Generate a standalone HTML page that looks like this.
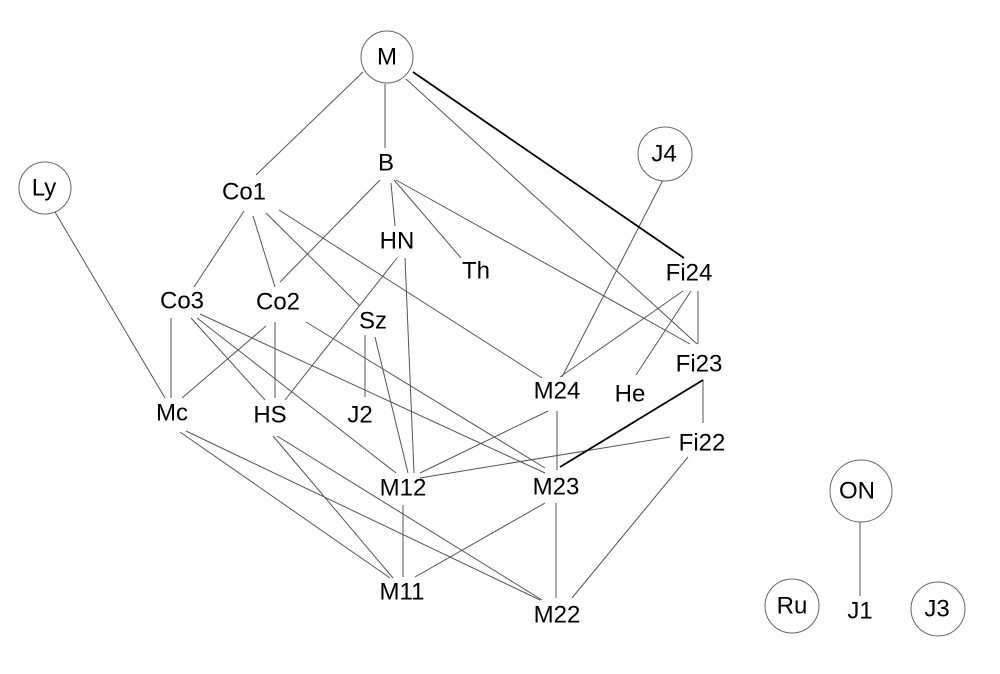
<!DOCTYPE html>
<html><head><meta charset="utf-8"><style>
html,body{margin:0;padding:0;background:#fff;}
svg{display:block;}
text{font-family:"Liberation Sans",sans-serif;font-size:24px;fill:#000;text-anchor:middle;dominant-baseline:central;}
</style></head><body>
<svg width="1000" height="674" viewBox="0 0 1000 674" xmlns="http://www.w3.org/2000/svg">
<g stroke="#555" stroke-width="1" fill="none">
<line x1="363" y1="72" x2="256" y2="175"/>
<line x1="385" y1="84" x2="385" y2="148"/>
<line x1="406" y1="79" x2="697" y2="344"/>
<line x1="380" y1="180" x2="280" y2="282"/>
<line x1="391" y1="183" x2="395" y2="226"/>
<line x1="394" y1="180" x2="461" y2="258"/>
<line x1="396" y1="180" x2="690" y2="344"/>
<line x1="244" y1="211" x2="194" y2="287"/>
<line x1="253" y1="216" x2="275" y2="287"/>
<line x1="266" y1="213" x2="360" y2="306"/>
<line x1="279" y1="210" x2="542" y2="378"/>
<line x1="397" y1="258" x2="285" y2="400"/>
<line x1="405" y1="258" x2="414" y2="473"/>
<line x1="683" y1="291" x2="560" y2="377"/>
<line x1="691" y1="291" x2="636" y2="375"/>
<line x1="698" y1="291" x2="698" y2="344"/>
<line x1="665" y1="176" x2="562" y2="377"/>
<line x1="703" y1="380" x2="703" y2="423"/>
<line x1="55" y1="212" x2="165" y2="398"/>
<line x1="171" y1="318" x2="171" y2="398"/>
<line x1="191" y1="318" x2="265" y2="400"/>
<line x1="197" y1="318" x2="396" y2="473"/>
<line x1="200" y1="314" x2="545" y2="473"/>
<line x1="266" y1="326" x2="182" y2="398"/>
<line x1="275" y1="322" x2="275" y2="398"/>
<line x1="306" y1="322" x2="545" y2="468"/>
<line x1="365" y1="335" x2="365" y2="397"/>
<line x1="375" y1="337" x2="408" y2="473"/>
<line x1="548" y1="411" x2="420" y2="473"/>
<line x1="557" y1="411" x2="557" y2="470"/>
<line x1="670" y1="437" x2="420" y2="478"/>
<line x1="688" y1="457" x2="572" y2="598"/>
<line x1="180" y1="432" x2="390" y2="578"/>
<line x1="186" y1="431" x2="540" y2="600"/>
<line x1="273" y1="436" x2="393" y2="578"/>
<line x1="277" y1="436" x2="542" y2="600"/>
<line x1="403" y1="505" x2="403" y2="577"/>
<line x1="545" y1="503" x2="415" y2="577"/>
<line x1="556" y1="503" x2="556" y2="598"/>
<line x1="860" y1="522" x2="860" y2="596"/>
</g>
<g stroke="#000" stroke-width="1.8" fill="none">
<line x1="413" y1="72" x2="684" y2="258"/>
<line x1="703" y1="380" x2="560" y2="467"/>
</g>
<g stroke="#666" stroke-width="1" fill="#fff">
<circle cx="387" cy="57" r="26"/>
<circle cx="45" cy="188" r="26"/>
<circle cx="665" cy="154" r="27"/>
<circle cx="861" cy="491" r="31"/>
<circle cx="792" cy="606" r="27"/>
<circle cx="938" cy="609" r="27"/>
</g>
<text x="387" y="57">M</text>
<text x="44" y="188">Ly</text>
<text x="664" y="154">J4</text>
<text x="857" y="491">ON</text>
<text x="792" y="606">Ru</text>
<text x="937" y="609">J3</text>
<text x="386" y="163">B</text>
<text x="244" y="192">Co1</text>
<text x="397" y="241">HN</text>
<text x="476" y="271">Th</text>
<text x="689" y="273">Fi24</text>
<text x="182" y="301">Co3</text>
<text x="278" y="302">Co2</text>
<text x="373" y="321">Sz</text>
<text x="699" y="364">Fi23</text>
<text x="557" y="391">M24</text>
<text x="630" y="394">He</text>
<text x="172" y="413">Mc</text>
<text x="270" y="415">HS</text>
<text x="360" y="415">J2</text>
<text x="702" y="443">Fi22</text>
<text x="403" y="488">M12</text>
<text x="556" y="487">M23</text>
<text x="402" y="592">M11</text>
<text x="557" y="615">M22</text>
<text x="860" y="611">J1</text>
</svg>
</body></html>
